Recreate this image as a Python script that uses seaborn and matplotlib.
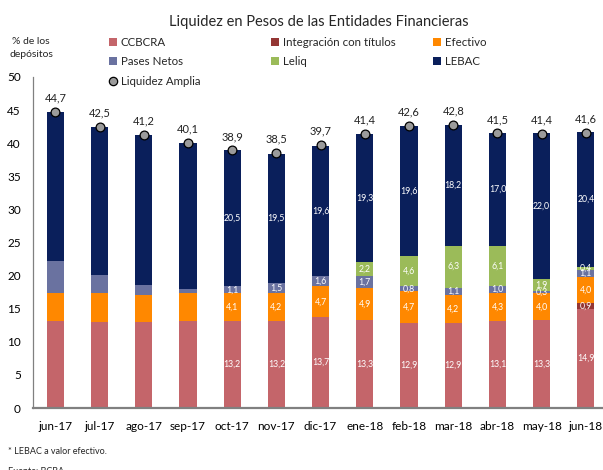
import numpy as np
import pandas as pd
import matplotlib
matplotlib.use("Agg")
import matplotlib.pyplot as plt
from matplotlib.patches import Patch
from matplotlib.lines import Line2D
import seaborn as sns

months = ["jun-17", "jul-17", "ago-17", "sep-17", "oct-17", "nov-17", "dic-17",
          "ene-18", "feb-18", "mar-18", "abr-18", "may-18", "jun-18"]
ccbcra = [13.1, 13.0, 13.0, 13.2, 13.2, 13.2, 13.7, 13.3, 12.9, 12.9, 13.1, 13.3, 14.9]
integracion = [0, 0, 0, 0, 0, 0, 0, 0, 0, 0, 0, 0, 0.9]
efectivo = [4.2, 4.4, 4.1, 4.1, 4.1, 4.2, 4.7, 4.9, 4.7, 4.2, 4.3, 4.0, 4.0]
pases = [4.9, 2.7, 1.5, 0.7, 1.1, 1.5, 1.6, 1.7, 0.8, 1.1, 1.0, 0.3, 1.1]
leliq = [0, 0, 0, 0, 0, 0, 0, 2.2, 4.6, 6.3, 6.1, 1.9, 0.4]
lebac = [22.5, 22.4, 22.6, 22.1, 20.5, 19.5, 19.6, 19.3, 19.6, 18.2, 17.0, 22.0, 20.4]
liquidez = [44.7, 42.5, 41.2, 40.1, 38.9, 38.5, 39.7, 41.4, 42.6, 42.8, 41.5, 41.4, 41.6]
labeled_from = "oct-17"

series_names = ["CCBCRA", "Integración con títulos", "Efectivo", "Pases Netos", "Leliq", "LEBAC"]
series_vals = [ccbcra, integracion, efectivo, pases, leliq, lebac]
colors = ["#C4656A", "#943634", "#FF8800", "#6A72A0", "#9BBB59", "#0A1F5B"]

sns.set_style("white")
plt.rcParams["font.family"] = ["Lato", "DejaVu Sans"]

df = pd.DataFrame({"mes": months})
for n, v in zip(series_names, series_vals):
    df[n] = v
cum = df[series_names].cumsum(axis=1)

fig = plt.figure(figsize=(6.03, 4.70), dpi=100)
ax = fig.add_axes([0.0551, 0.1319, 0.9531, 0.7043])

# draw stacked bars from top layer downward
for n, c in reversed(list(zip(series_names, colors))):
    sns.barplot(x=df["mes"], y=cum[n], color=c, width=0.39, saturation=1,
                ax=ax, order=months, linewidth=0)

# segment labels
start = months.index(labeled_from)
for i in range(start, len(months)):
    base = 0.0
    for n in series_names:
        v = df.loc[i, n]
        if v > 0:
            ax.text(i, base + v / 2, f"{v:.1f}".replace(".", ","), ha="center",
                    va="center", color="white", fontsize=6.3)
        base += v

# Liquidez amplia points
sns.scatterplot(x=df["mes"], y=liquidez, ax=ax, s=40, color="#9B9B9B",
                edgecolor="black", linewidth=0.9, zorder=5, legend=False)
for i, t in enumerate(liquidez):
    ax.annotate(f"{t:.1f}".replace(".", ","), (i, t), xytext=(0, 6),
                textcoords="offset points", ha="center", va="bottom",
                fontsize=8, color="#222222")

ax.set_xlim(-0.5, len(months) - 0.5)
ax.set_ylim(0, 50)
ax.set_yticks(np.arange(0, 51, 5))
ax.set_xlabel("")
ax.set_ylabel("")
ax.set_xticks(np.arange(0.5, len(months) - 1, 1), minor=True)
ax.tick_params(axis="x", which="major", length=0, labelsize=8.5, pad=9, colors="black")
ax.tick_params(axis="x", which="minor", direction="in", length=3, color="#404040", width=0.8)
ax.tick_params(axis="y", which="major", direction="out", length=3, color="#808080",
               labelsize=8.5, pad=6, colors="black")
ax.tick_params(axis="y", colors="#808080", labelcolor="black")
for s in ["top", "right"]:
    ax.spines[s].set_visible(False)
ax.spines["left"].set_color("#808080")
ax.spines["left"].set_linewidth(0.9)
ax.spines["bottom"].set_color("#808080")
ax.spines["bottom"].set_linewidth(1.6)

# title and axis caption
fig.text(319 / 603, 1 - 22 / 470, "Liquidez en Pesos de las Entidades Financieras",
         ha="center", va="center", fontsize=10.5)
fig.text(31 / 603, 1 - 48 / 470, "% de los\ndepósitos", ha="center", va="center",
         fontsize=7.5, linespacing=1.7)

# legend in three columns
handles = [Patch(facecolor=c, edgecolor="none") for c in colors]
dot = Line2D([], [], marker="o", linestyle="none", markersize=6,
             markerfacecolor="#9B9B9B", markeredgecolor="black", markeredgewidth=0.9)
cols = [
    ([handles[0], handles[3], dot], [series_names[0], series_names[3], "Liquidez Amplia"], 109),
    ([handles[1], handles[4]], [series_names[1], series_names[4]], 271),
    ([handles[2], handles[5]], [series_names[2], series_names[5]], 433),
]
for hs, ls, xpx in cols:
    leg = fig.legend(hs, ls, loc="upper left", bbox_to_anchor=(xpx / 603, 1 - 37 / 470),
                     frameon=False, fontsize=8.3, handlelength=0.7, handleheight=0.7,
                     handletextpad=0.3, labelspacing=0.72, borderpad=0, borderaxespad=0)

# footer
fig.text(8 / 603, 1 - 452 / 470, "* LEBAC a valor efectivo.", ha="left", va="center",
         fontsize=6.5)
fig.text(8 / 603, 1 - 472 / 470, "Fuente: BCRA", ha="left", va="center", fontsize=6.5)

fig.savefig("out.png", dpi=100)
